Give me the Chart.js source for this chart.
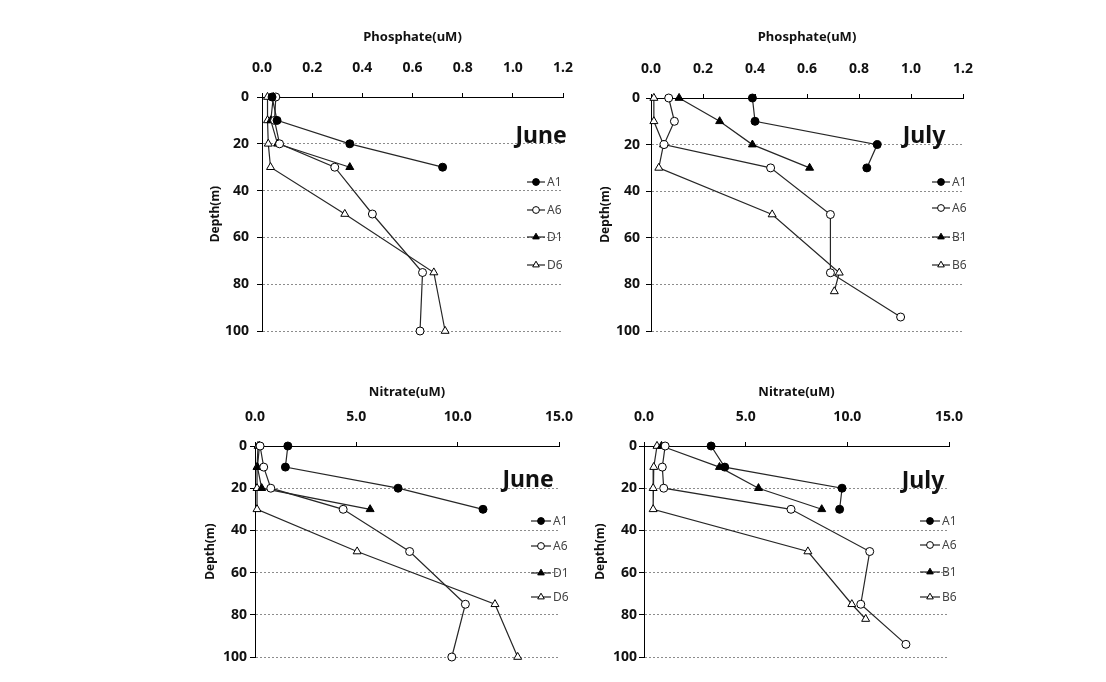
<!DOCTYPE html>
<html><head><meta charset="utf-8">
<script src="https://cdn.jsdelivr.net/npm/chart.js@4.4.1/dist/chart.umd.min.js"></script>
<style>
html,body{margin:0;padding:0;background:#fff;width:1106px;height:682px;overflow:hidden;position:relative}
canvas{position:absolute}
</style></head><body>
<canvas id="c1"></canvas><canvas id="c2"></canvas><canvas id="c3"></canvas><canvas id="c4"></canvas>
<script>
// ---------- DATA ----------
const stationsJune = ['A1', 'A6', 'D1', 'D6'];
const stationsJuly = ['A1', 'A6', 'B1', 'B6'];

const depthShort = [0, 10, 20, 30];
const depthFull = [0, 10, 20, 30, 50, 75, 100];
const depthJulyA6 = [0, 10, 20, 30, 50, 75, 94];
const depthJulyB6Phos = [0, 10, 20, 30, 50, 75, 83];
const depthJulyB6Nit = [0, 10, 20, 30, 50, 75, 82];

// June phosphate (uM)
const junePhosA1 = [0.04, 0.06, 0.35, 0.72];
const junePhosA6 = [0.055, 0.05, 0.07, 0.29, 0.44, 0.64, 0.63];
const junePhosD1 = [0.045, 0.035, 0.062, 0.35];
const junePhosD6 = [0.022, 0.022, 0.025, 0.034, 0.33, 0.685, 0.73];

// July phosphate (uM)
const julyPhosA1 = [0.39, 0.40, 0.87, 0.83];
const julyPhosA6 = [0.068, 0.09, 0.05, 0.46, 0.69, 0.69, 0.96];
const julyPhosB1 = [0.108, 0.264, 0.39, 0.61];
const julyPhosB6 = [0.011, 0.011, 0.048, 0.03, 0.466, 0.724, 0.705];

// June nitrate (uM)
const juneNitA1 = [1.62, 1.5, 7.06, 11.25];
const juneNitA6 = [0.25, 0.43, 0.78, 4.35, 7.63, 10.38, 9.71];
const juneNitD1 = [0.22, 0.12, 0.33, 5.68];
const juneNitD6 = [0.15, 0.1, 0.1, 0.1, 5.04, 11.84, 12.96];

// July nitrate (uM)
const julyNitA1 = [3.3, 3.97, 9.74, 9.62];
const julyNitA6 = [1.04, 0.9, 0.97, 7.23, 11.1, 10.66, 12.88];
const julyNitB1 = [0.86, 3.71, 5.63, 8.74];
const julyNitB6 = [0.64, 0.48, 0.45, 0.45, 8.06, 10.22, 10.9];

// tick labels
const phosTicks = [0, 0.2, 0.4, 0.6, 0.8, 1.0, 1.2];
const nitTicks = [0, 5, 10, 15];
const depthTicks = [0, 20, 40, 60, 80, 100];

const phosTitle = 'Phosphate(uM)';
const nitTitle = 'Nitrate(uM)';
const depthTitle = 'Depth(m)';

// ---------- STYLES ----------
const markerStyles = [
  {pointStyle: 'circle', fill: '#000', r: 4},
  {pointStyle: 'circle', fill: '#fff', r: 4},
  {pointStyle: 'triangle', fill: '#000', r: 4.6},
  {pointStyle: 'triangle', fill: '#fff', r: 4.6}
];
const FONT = '"Noto Sans", "DejaVu Sans", sans-serif';

function zip(depths, vals) { return vals.map((v, i) => ({x: v, y: depths[i]})); }

function makeDatasets(names, depthList, valList) {
  return names.map((n, i) => ({
    label: n,
    data: zip(depthList[i], valList[i]),
    showLine: true,
    borderColor: '#262626',
    borderWidth: 1.2,
    pointStyle: markerStyles[i].pointStyle,
    pointRadius: markerStyles[i].r,
    pointBackgroundColor: markerStyles[i].fill,
    pointBorderColor: '#000',
    pointBorderWidth: 1,
    clip: false
  }));
}

const decorPlugin = {
  id: 'decor',
  afterDatasetsDraw(chart, args, o) {
    const ctx = chart.ctx;
    ctx.save();
    ctx.font = 'bold 23px ' + FONT;
    ctx.fillStyle = '#111';
    ctx.textAlign = 'center';
    ctx.textBaseline = 'alphabetic';
    ctx.fillText(o.label, o.labelX, o.labelY);
    chart.data.datasets.forEach((ds, i) => {
      const y = o.legendY[i], x0 = o.legendX, len = o.legendLen;
      ctx.strokeStyle = '#222'; ctx.lineWidth = 1.2;
      ctx.beginPath(); ctx.moveTo(x0, y); ctx.lineTo(x0 + len, y); ctx.stroke();
      ctx.fillStyle = ds.pointBackgroundColor; ctx.strokeStyle = '#000'; ctx.lineWidth = 1;
      Chart.helpers.drawPoint(ctx, {pointStyle: ds.pointStyle, radius: ds.pointStyle === 'triangle' ? 3.8 : 3.4, rotation: 0, borderWidth: 1}, x0 + len / 2, y);
      ctx.fillStyle = '#444';
      ctx.font = '12px ' + FONT;
      ctx.textAlign = 'left'; ctx.textBaseline = 'middle';
      ctx.fillText(ds.label, x0 + len + 2, y + 1);
    });
    ctx.restore();
  }
};

function makePanel(id, geo, xTitle, xMax, xTicks, datasets, deco) {
  const cv = document.getElementById(id);
  cv.width = geo.w; cv.height = geo.h;
  cv.style.left = geo.left + 'px'; cv.style.top = geo.top + 'px';
  const yW = geo.areaL - geo.left;
  const xH = geo.areaT - geo.top;
  const rel = {
    label: deco.label,
    labelX: deco.labelX - geo.left, labelY: deco.labelY - geo.top,
    legendX: deco.legendX - geo.left, legendLen: deco.legendLen,
    legendY: deco.legendY.map(v => v - geo.top)
  };
  new Chart(cv, {
    type: 'scatter',
    data: {datasets},
    plugins: [decorPlugin],
    options: {
      responsive: false, animation: false, devicePixelRatio: 1,
      layout: {padding: {left: 0, top: 0, right: geo.left + geo.w - geo.areaR, bottom: geo.top + geo.h - geo.areaB}},
      plugins: {legend: {display: false}, tooltip: {enabled: false}, decor: rel},
      scales: {
        x: {
          type: 'linear', position: 'top', min: 0, max: xMax,
          afterBuildTicks: s => { s.ticks = xTicks.map(v => ({value: v})); },
          afterFit: s => { s.height = xH; },
          grid: {drawOnChartArea: false, drawTicks: true, tickLength: 4, tickColor: '#000', tickWidth: 1},
          border: {display: true, color: '#000', width: 1},
          ticks: {color: '#111', font: {family: FONT, size: 14, weight: 'bold'}, padding: geo.xTickPad, maxRotation: 0,
                  callback: v => Number(v).toFixed(1)},
          title: {display: true, text: xTitle, color: '#111', font: {family: FONT, size: 13, weight: 'bold'}, padding: {top: geo.xTitlePad, bottom: 0}}
        },
        y: {
          type: 'linear', position: 'left', reverse: true, min: 0, max: 100,
          afterBuildTicks: s => { s.ticks = depthTicks.map(v => ({value: v})); },
          afterFit: s => { s.width = yW; },
          grid: {color: c => (c.tick && c.tick.value === 0) ? 'rgba(0,0,0,0)' : '#8c8c8c', lineWidth: 1,
                 drawTicks: true, tickLength: 5, tickColor: '#000', tickWidth: 1, tickBorderDash: []},
          border: {display: true, color: '#000', width: 1, dash: [2, 2]},
          ticks: {color: '#111', font: {family: FONT, size: 14, weight: 'bold'}, padding: geo.yTickPad},
          title: {display: true, text: depthTitle, color: '#111', font: {family: FONT, size: 12, weight: 'bold'}, padding: {top: geo.yTitlePad, bottom: 0}}
        }
      }
    }
  });
}

makePanel('c1',
  {left: 190, top: 20, w: 400, h: 330, areaL: 262, areaT: 97, areaR: 568, areaB: 331, xTickPad: 17, xTitlePad: 9, yTickPad: 8, yTitlePad: 18},
  phosTitle, 1.2, phosTicks,
  makeDatasets(stationsJune, [depthShort, depthFull, depthShort, depthFull], [junePhosA1, junePhosA6, junePhosD1, junePhosD6]),
  {label: 'June', labelX: 541, labelY: 143, legendX: 527, legendLen: 18, legendY: [182, 210, 237, 265]});

makePanel('c2',
  {left: 580, top: 20, w: 410, h: 330, areaL: 651, areaT: 98, areaR: 973, areaB: 331, xTickPad: 17, xTitlePad: 9, yTickPad: 6, yTitlePad: 18},
  phosTitle, 1.2, phosTicks,
  makeDatasets(stationsJuly, [depthShort, depthJulyA6, depthShort, depthJulyB6Phos], [julyPhosA1, julyPhosA6, julyPhosB1, julyPhosB6]),
  {label: 'July', labelX: 924, labelY: 143, legendX: 932, legendLen: 18, legendY: [182, 208, 237, 265]});

makePanel('c3',
  {left: 190, top: 370, w: 400, h: 300, areaL: 255, areaT: 446, areaR: 567, areaB: 657, xTickPad: 17, xTitlePad: 14, yTickPad: 3, yTitlePad: 13},
  nitTitle, 15, nitTicks,
  makeDatasets(stationsJune, [depthShort, depthFull, depthShort, depthFull], [juneNitA1, juneNitA6, juneNitD1, juneNitD6]),
  {label: 'June', labelX: 528, labelY: 487, legendX: 531, legendLen: 20, legendY: [521, 546, 573, 597]});

makePanel('c4',
  {left: 580, top: 370, w: 400, h: 300, areaL: 644, areaT: 446, areaR: 957, areaB: 657, xTickPad: 17, xTitlePad: 14, yTickPad: 2, yTitlePad: 13},
  nitTitle, 15, nitTicks,
  makeDatasets(stationsJuly, [depthShort, depthJulyA6, depthShort, depthJulyB6Nit], [julyNitA1, julyNitA6, julyNitB1, julyNitB6]),
  {label: 'July', labelX: 923, labelY: 488, legendX: 920, legendLen: 20, legendY: [521, 545, 572, 597]});
</script>
</body></html>
